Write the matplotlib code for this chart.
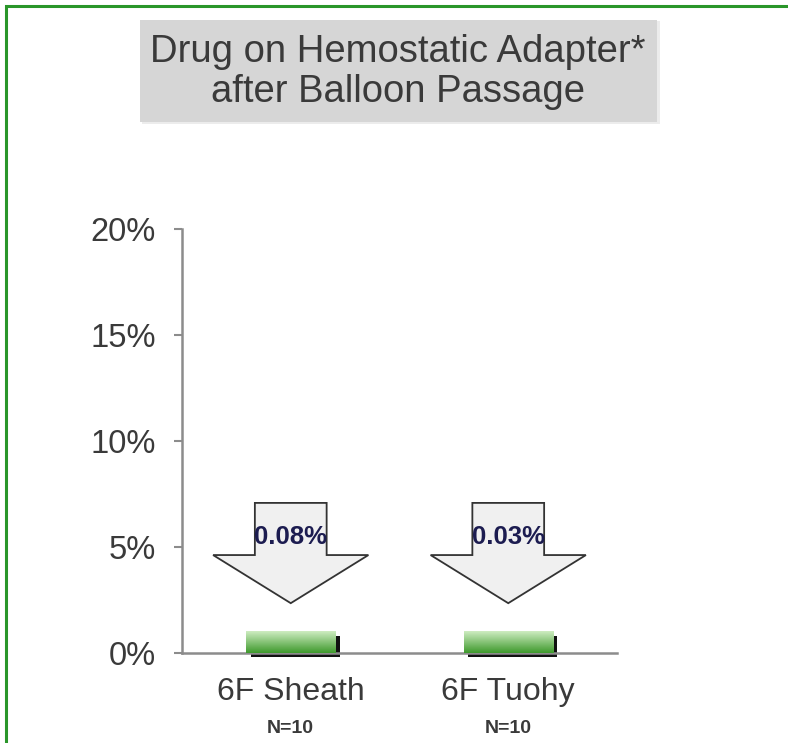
import numpy as np
import matplotlib.pyplot as plt
from matplotlib.patches import Polygon, Rectangle

plt.rcParams['font.family'] = ['Liberation Sans', 'DejaVu Sans']

# Data
categories = ["6F Sheath", "6F Tuohy"]
sample_sizes = ["N=10", "N=10"]
drug_pct = [0.08, 0.03]          # values written in the arrows
bar_height = [1.0, 1.0]          # bar height as drawn in the picture (%)
y_ticks = [0, 5, 10, 15, 20]
y_tick_labels = ["0%", "5%", "10%", "15%", "20%"]

title = "Drug on Hemostatic Adapter*\nafter Balloon Passage"

fig = plt.figure(figsize=(7.88, 7.43), dpi=100)

# Green frame around the slide
fig.patches.append(Rectangle((6 / 788, -0.05), 1.2, 1.05 - 6 / 743, transform=fig.transFigure,
                             fill=False, edgecolor="#2a962a", linewidth=2.2))

# Title box with a soft shadow
fig.patches.append(Rectangle((142 / 788, 1 - 124 / 743), 518 / 788, 103 / 743,
                             transform=fig.transFigure, facecolor="#ececec", edgecolor="none"))
fig.patches.append(Rectangle((140 / 788, 1 - 122 / 743), 517 / 788, 102 / 743,
                             transform=fig.transFigure, facecolor="#d6d6d6", edgecolor="none"))
fig.text(398 / 788, 1 - 72 / 743, title, ha="center", va="center", fontsize=27.5,
         color="#3a3a3a", linespacing=1.12)

ax = fig.add_axes([182 / 788, 1 - 653 / 743, 435 / 788, 424 / 743])
x = np.arange(len(categories))
ax.set_xlim(-0.5, 1.5)
ax.set_ylim(0, 20)

# Bars with a dark shadow
w = 0.41
cmap = plt.matplotlib.colors.LinearSegmentedColormap.from_list("g", ["#3f9a2d", "#cdecc0"])
for xi, h in zip(x, bar_height):
    ax.add_patch(Rectangle((xi - w / 2 + 0.02, -0.18), w, h, facecolor="#111111",
                           edgecolor="none", clip_on=False, zorder=2))
    grad = np.linspace(0, 1, 50).reshape(-1, 1)
    ax.imshow(grad, extent=(xi - w / 2, xi + w / 2, 0, h), origin="lower",
              cmap=cmap, aspect="auto", zorder=3)

# Down arrows with the values
sw, hw = 0.165, 0.357
y_top, y_neck, y_tip = 7.08, 4.62, 2.35
for xi, v in zip(x, drug_pct):
    pts = [(xi - sw, y_top), (xi + sw, y_top), (xi + sw, y_neck), (xi + hw, y_neck),
           (xi, y_tip), (xi - hw, y_neck), (xi - sw, y_neck)]
    ax.add_patch(Polygon(pts, closed=True, facecolor="#f0f0f0", edgecolor="#333333",
                         linewidth=1.3, zorder=4))
    ax.text(xi, 5.45, f"{v:.2f}%", ha="center", va="center", fontsize=18.5,
            fontweight="bold", color="#1c1c50", zorder=5)

ax.set_xticks(x)
ax.set_xticklabels(categories, fontsize=23, color="#3a3a3a")
ax.tick_params(axis="x", length=0, pad=17)
for xi, n in zip(x, sample_sizes):
    ax.text(xi, -3.55, n, ha="center", va="center", fontsize=14, fontweight="bold",
            color="#3a3a3a")

ax.set_yticks(y_ticks)
ax.set_yticklabels(y_tick_labels, fontsize=23.5, color="#3a3a3a")
ax.tick_params(axis="y", length=6, width=1.5, color="#8c8c8c", pad=13)

for s in ["top", "right"]:
    ax.spines[s].set_visible(False)
for s in ["left", "bottom"]:
    ax.spines[s].set_color("#8c8c8c")
    ax.spines[s].set_linewidth(1.8)

fig.savefig("out.png", dpi=100)
